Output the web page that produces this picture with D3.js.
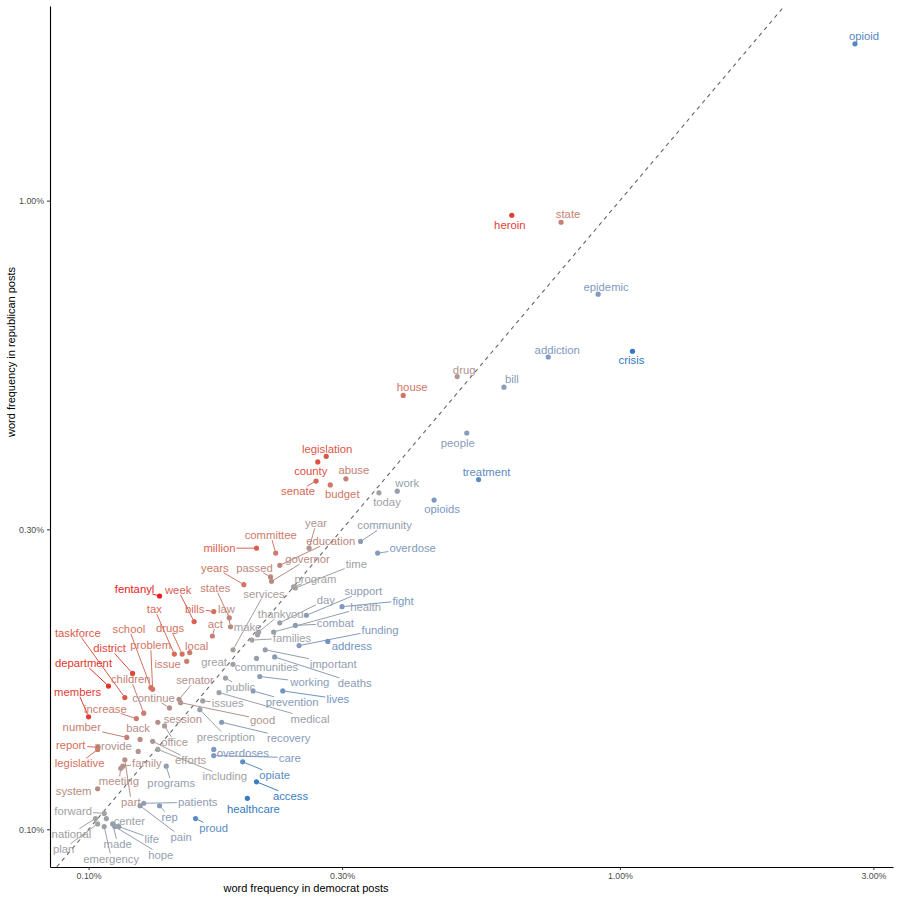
<!DOCTYPE html>
<html lang="en">
<head>
  <meta charset="UTF-8">
  <title>Word frequency: democrat vs republican posts</title>
  <style>
    html, body { margin: 0; padding: 0; background: #fff; }
    svg { display: block; font-family: "Liberation Sans", Arial, sans-serif; }
  </style>
</head>
<body>
  <svg id="svg" width="900" height="900"></svg>

  <script src="https://cdn.jsdelivr.net/npm/d3@7"></script>
  <script>
    // word list and frequencies (percent of posts' words)
    const words = [
      'opioid', 'heroin', 'state', 'epidemic', 'addiction', 'crisis', 'drug', 'bill', 'house', 'people',
      'legislation', 'county', 'abuse', 'senate', 'budget', 'treatment', 'work', 'today', 'opioids', 'community',
      'overdose', 'year', 'education', 'committee', 'million', 'governor', 'passed', 'years', 'time', 'program',
      'services', 'fentanyl', 'week', 'bills', 'states', 'law', 'act', 'tax', 'drugs', 'local',
      'issue', 'taskforce', 'school', 'problem', 'district', 'department', 'children', 'members', 'continue', 'increase',
      'senator', 'good', 'issues', 'public', 'prescription', 'medical', 'recovery', 'session', 'office', 'number',
      'back', 'provide', 'report', 'legislative', 'efforts', 'including', 'family', 'meeting', 'programs', 'system',
      'part', 'patients', 'rep', 'pain', 'healthcare', 'proud', 'forward', 'center', 'national', 'plan',
      'made', 'emergency', 'life', 'hope', 'overdoses', 'care', 'opiate', 'access', 'important', 'deaths',
      'working', 'prevention', 'lives', 'great', 'communities', 'make', 'thankyou', 'day', 'support', 'fight',
      'health', 'combat', 'families', 'funding', 'address'
    ];

    const demPct = [
      2.77, 0.626, 0.775, 0.910, 0.733, 1.056, 0.494, 0.605, 0.391, 0.515,
      0.280, 0.270, 0.305, 0.268, 0.285, 0.542, 0.381, 0.352, 0.447, 0.325,
      0.350, 0.260, 0.229, 0.225, 0.207, 0.221, 0.220, 0.196, 0.245, 0.243,
      0.187, 0.136, 0.158, 0.172, 0.184, 0.185, 0.171, 0.145, 0.150, 0.155,
      0.153, 0.117, 0.131, 0.132, 0.121, 0.109, 0.127, 0.100, 0.142, 0.123,
      0.148, 0.149, 0.164, 0.181, 0.162, 0.176, 0.178, 0.135, 0.139, 0.118,
      0.125, 0.124, 0.104, 0.104, 0.132, 0.135, 0.116, 0.115, 0.140, 0.104,
      0.117, 0.127, 0.136, 0.125, 0.199, 0.159, 0.107, 0.108, 0.103, 0.104,
      0.111, 0.107, 0.114, 0.112, 0.172, 0.172, 0.195, 0.207, 0.215, 0.224,
      0.210, 0.204, 0.232, 0.187, 0.207, 0.208, 0.209, 0.229, 0.257, 0.300,
      0.223, 0.245, 0.203, 0.249, 0.282
    ];

    const repPct = [
      1.776, 0.948, 0.924, 0.710, 0.564, 0.576, 0.525, 0.505, 0.490, 0.427,
      0.392, 0.384, 0.361, 0.358, 0.353, 0.360, 0.345, 0.343, 0.334, 0.287,
      0.275, 0.280, 0.263, 0.275, 0.280, 0.248, 0.252, 0.245, 0.242, 0.243,
      0.193, 0.235, 0.214, 0.222, 0.217, 0.210, 0.203, 0.190, 0.190, 0.191,
      0.185, 0.162, 0.168, 0.167, 0.177, 0.169, 0.153, 0.151, 0.156, 0.150,
      0.161, 0.159, 0.160, 0.174, 0.155, 0.165, 0.148, 0.148, 0.146, 0.140,
      0.139, 0.133, 0.135, 0.134, 0.138, 0.134, 0.126, 0.125, 0.126, 0.116,
      0.129, 0.110, 0.109, 0.109, 0.112, 0.104, 0.106, 0.104, 0.104, 0.102,
      0.102, 0.101, 0.101, 0.101, 0.134, 0.131, 0.128, 0.119, 0.193, 0.188,
      0.175, 0.166, 0.166, 0.183, 0.187, 0.204, 0.206, 0.213, 0.219, 0.226,
      0.206, 0.211, 0.200, 0.196, 0.199
    ];

    const xTicks = [0.1, 0.3, 1, 3];
    const yTicks = [0.1, 0.3, 1];

    // label placement (pixel offset of label centre from its point), repel-style
    const labelNudge = {
      opioid: [9, -8], heroin: [-2, 10], state: [7, -8], epidemic: [8, -7], addiction: [9, -7],
      crisis: [-1, 9], drug: [7, -7], bill: [8, -8], house: [9, -8], people: [-9, 10],
      legislation: [1, -7], county: [-7, 9], abuse: [8, -9], senate: [-18, 10], budget: [12, 9],
      treatment: [8, -8], work: [10, -8], today: [8, 9], opioids: [8, 9], community: [24, -16],
      overdose: [35, -5], year: [7, -25], education: [51, -24], committee: [-5, -18], million: [-37, 0],
      governor: [36, -22], passed: [-16, -9], years: [-29, -17], time: [61, -24], program: [22, -8],
      services: [31, -56], fentanyl: [-25, -7], week: [-16, -32], bills: [-19, -3], states: [-14, -30],
      law: [-4, -18], act: [3, -12], tax: [-20, -45], drugs: [-12, -26], local: [7, -7],
      issue: [-19, 3], taskforce: [-47, -65], school: [-22, -59], problem: [-2, -44], district: [-23, -25],
      department: [-25, -23], children: [-13, -34], members: [-11, -25], continue: [-16, -10], increase: [-31, -10],
      senator: [16, -19], good: [82, 17], issues: [25, 2], public: [15, 9], prescription: [26, 27],
      medical: [91, 26], recovery: [67, 16], session: [25, -3], office: [10, 16], number: [-45, -10],
      back: [-2, -11], provide: [-25, -5], report: [-27, -2], legislative: [-18, 14], efforts: [38, 19],
      including: [67, 27], family: [24, -3], meeting: [-2, 13], programs: [5, 17], system: [-24, 2],
      part: [6, 42], patients: [54, -1], rep: [10, 11], pain: [41, 31], healthcare: [6, 11],
      proud: [18, 9], forward: [-31, -2], center: [23, 2], national: [-24, 15], plan: [-34, 25],
      made: [5, 20], emergency: [7, 32], life: [33, 12], hope: [46, 28], overdoses: [29, 4],
      care: [76, 2], opiate: [32, 13], access: [34, 14], important: [68, 14], deaths: [80, 26],
      working: [50, 6], prevention: [39, 11], lives: [55, 8], great: [-19, -2], communities: [10, 9],
      make: [-10, -8], thankyou: [22, -18], day: [46, -23], support: [57, -24], fight: [61, -6],
      health: [92, -25], combat: [40, -2], families: [40, -2], funding: [81, -16], address: [24, 5]
    };

    const data = words.map((w, i) => ({
      word: w,
      dem: demPct[i],
      rep: repPct[i],
      ratio: Math.log10(repPct[i] / demPct[i])
    }));

    const svg = d3.select('#svg');
    const panel = { left: 50, right: 893, top: 6, bottom: 867 };

    const xScale = d3.scaleLog()
      .domain([0.0846, 3.266])
      .range([panel.left, panel.right]);

    const yScale = d3.scaleLog()
      .domain([0.0871, 2.04])
      .range([panel.bottom, panel.top]);

    // diverging colour on log10(rep / dem): blue - grey - red
    const colorScale = d3.scaleLinear()
      .domain([-0.26, -0.13, 0, 0.11, 0.22])
      .range(['#2f78c2', '#7a98c4', '#a2a2a2', '#d6705c', '#e6211c'])
      .interpolate(d3.interpolateRgb)
      .clamp(true);

    const pctFormat = v => d3.format('.2f')(v) + '%';

    // y = x reference line
    const lo = Math.max(xScale.domain()[0], yScale.domain()[0]);
    const hi = Math.min(xScale.domain()[1], yScale.domain()[1]);
    svg.append('line')
      .attr('x1', xScale(lo)).attr('y1', yScale(lo))
      .attr('x2', xScale(hi)).attr('y2', yScale(hi))
      .attr('stroke', '#666')
      .attr('stroke-width', 1.1)
      .attr('stroke-dasharray', '4,4');

    // axes
    const xAxis = svg.append('g')
      .attr('transform', `translate(0,${panel.bottom})`)
      .call(d3.axisBottom(xScale).tickValues(xTicks).tickFormat(pctFormat).tickSize(3).tickSizeOuter(0));
    const yAxis = svg.append('g')
      .attr('transform', `translate(${panel.left},0)`)
      .call(d3.axisLeft(yScale).tickValues(yTicks).tickFormat(pctFormat).tickSize(3).tickSizeOuter(0));

    [xAxis, yAxis].forEach(ax => {
      ax.select('.domain').attr('stroke', '#000').attr('stroke-width', 1.1);
      ax.selectAll('.tick line').attr('stroke', '#333');
      ax.selectAll('.tick text')
        .attr('fill', '#4d4d4d')
        .style('font-size', '8.8px')
        .style('font-family', '"Liberation Sans", Arial, sans-serif');
    });

    // axis titles
    svg.append('text')
      .attr('x', 306)
      .attr('y', 892)
      .attr('text-anchor', 'middle')
      .style('font-size', '11px')
      .text('word frequency in democrat posts');

    svg.append('text')
      .attr('transform', 'rotate(-90)')
      .attr('x', -352)
      .attr('y', 15)
      .attr('text-anchor', 'middle')
      .style('font-size', '11px')
      .text('word frequency in republican posts');

    const segLayer = svg.append('g');
    const pointLayer = svg.append('g');
    const labelLayer = svg.append('g');

    // points
    pointLayer.selectAll('circle')
      .data(data)
      .enter()
      .append('circle')
      .attr('cx', d => xScale(d.dem))
      .attr('cy', d => yScale(d.rep))
      .attr('r', 2.6)
      .attr('fill', d => colorScale(d.ratio));

    // labels
    const labels = labelLayer.selectAll('text')
      .data(data)
      .enter()
      .append('text')
      .attr('x', d => xScale(d.dem) + labelNudge[d.word][0])
      .attr('y', d => yScale(d.rep) + labelNudge[d.word][1])
      .attr('dy', '0.35em')
      .attr('text-anchor', 'middle')
      .attr('fill', d => colorScale(d.ratio))
      .style('font-size', '11.3px')
      .text(d => d.word);

    // leader segments from each point to the edge of its label box
    labels.each(function(d) {
      const bb = this.getBBox();
      const px = xScale(d.dem), py = yScale(d.rep);
      const cx = bb.x + bb.width / 2, cy = bb.y + bb.height / 2;
      const hw = bb.width / 2 + 1, hh = bb.height / 2 - 1;
      const vx = px - cx, vy = py - cy;
      if (Math.abs(vx) <= hw && Math.abs(vy) <= hh) return;
      const t = Math.min(
        vx !== 0 ? hw / Math.abs(vx) : Infinity,
        vy !== 0 ? hh / Math.abs(vy) : Infinity
      );
      const ex = cx + vx * t, ey = cy + vy * t;
      const len = Math.hypot(px - ex, py - ey);
      if (len < 7) return;
      const gap = 2.5 / len;
      segLayer.append('line')
        .attr('x1', px + (ex - px) * gap)
        .attr('y1', py + (ey - py) * gap)
        .attr('x2', ex)
        .attr('y2', ey)
        .attr('stroke', colorScale(d.ratio))
        .attr('stroke-width', 1);
    });
  </script>
</body>
</html>
